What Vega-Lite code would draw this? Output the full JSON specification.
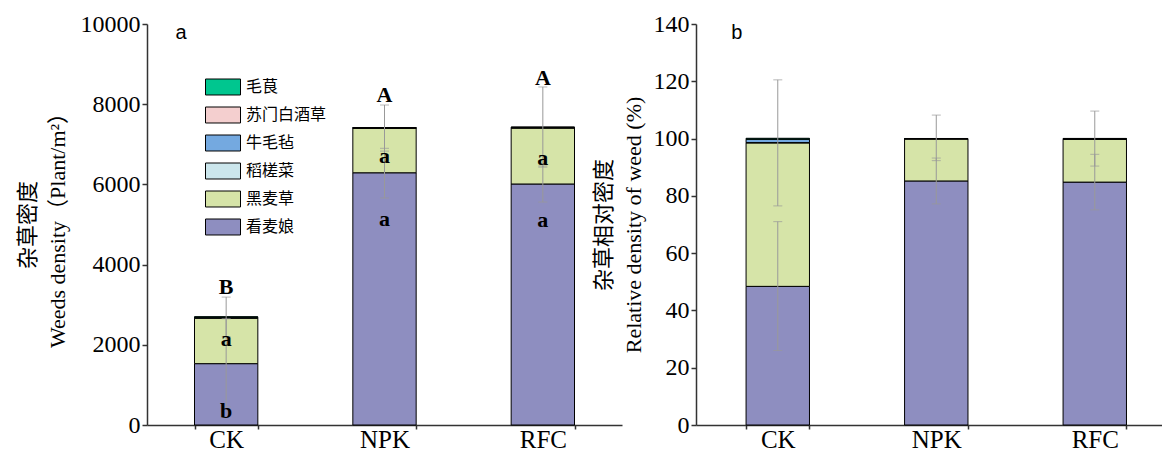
{
  "$schema": "https://vega.github.io/schema/vega-lite/v6.json",
  "background": "white",
  "padding": {"left": 16, "top": 12, "right": 0, "bottom": 0},
  "config": {
    "font": "Liberation Serif",
    "view": {"stroke": null},
    "axis": {
      "labelFont": "Liberation Serif",
      "titleFont": "Liberation Serif, Noto Sans CJK SC",
      "labelFontSize": 24,
      "titleFontSize": 22,
      "titleFontWeight": "normal",
      "titleLineHeight": 30,
      "labelColor": "black",
      "titleColor": "black",
      "domainColor": "#333",
      "tickColor": "#333",
      "domainWidth": 1.5,
      "tickWidth": 1.5,
      "grid": false
    }
  },
  "datasets": {
    "density": [
      {"treatment": "CK", "species": "看麦娘", "value": 1530, "stack_order": 1},
      {"treatment": "CK", "species": "黑麦草", "value": 1135, "stack_order": 2},
      {"treatment": "CK", "species": "稻槎菜", "value": 5, "stack_order": 3},
      {"treatment": "CK", "species": "牛毛毡", "value": 15, "stack_order": 4},
      {"treatment": "CK", "species": "苏门白酒草", "value": 4, "stack_order": 5},
      {"treatment": "CK", "species": "毛茛", "value": 8, "stack_order": 6},
      {"treatment": "NPK", "species": "看麦娘", "value": 6290, "stack_order": 1},
      {"treatment": "NPK", "species": "黑麦草", "value": 1115, "stack_order": 2},
      {"treatment": "NPK", "species": "稻槎菜", "value": 3, "stack_order": 3},
      {"treatment": "NPK", "species": "牛毛毡", "value": 3, "stack_order": 4},
      {"treatment": "NPK", "species": "苏门白酒草", "value": 2, "stack_order": 5},
      {"treatment": "NPK", "species": "毛茛", "value": 4, "stack_order": 6},
      {"treatment": "RFC", "species": "看麦娘", "value": 6010, "stack_order": 1},
      {"treatment": "RFC", "species": "黑麦草", "value": 1395, "stack_order": 2},
      {"treatment": "RFC", "species": "稻槎菜", "value": 8, "stack_order": 3},
      {"treatment": "RFC", "species": "牛毛毡", "value": 6, "stack_order": 4},
      {"treatment": "RFC", "species": "苏门白酒草", "value": 4, "stack_order": 5},
      {"treatment": "RFC", "species": "毛茛", "value": 8, "stack_order": 6}
    ],
    "densityErr": [
      {"treatment": "CK", "lo": 450, "hi": 2650},
      {"treatment": "CK", "lo": 2200, "hi": 3190},
      {"treatment": "NPK", "lo": 5660, "hi": 6900},
      {"treatment": "NPK", "lo": 6830, "hi": 7980},
      {"treatment": "RFC", "lo": 5560, "hi": 6460},
      {"treatment": "RFC", "lo": 6430, "hi": 8430}
    ],
    "letters": [
      {"treatment": "CK", "label": "B", "y": 3430},
      {"treatment": "CK", "label": "a", "y": 2145},
      {"treatment": "CK", "label": "b", "y": 350},
      {"treatment": "NPK", "label": "A", "y": 8229},
      {"treatment": "NPK", "label": "a", "y": 6708},
      {"treatment": "NPK", "label": "a", "y": 5137},
      {"treatment": "RFC", "label": "A", "y": 8641},
      {"treatment": "RFC", "label": "a", "y": 6646},
      {"treatment": "RFC", "label": "a", "y": 5112}
    ],
    "relative": [
      {"treatment": "CK", "species": "看麦娘", "value": 48.4, "stack_order": 1},
      {"treatment": "CK", "species": "黑麦草", "value": 50.1, "stack_order": 2},
      {"treatment": "CK", "species": "稻槎菜", "value": 0.1, "stack_order": 3},
      {"treatment": "CK", "species": "牛毛毡", "value": 1.1, "stack_order": 4},
      {"treatment": "CK", "species": "苏门白酒草", "value": 0.1, "stack_order": 5},
      {"treatment": "CK", "species": "毛茛", "value": 0.3, "stack_order": 6},
      {"treatment": "NPK", "species": "看麦娘", "value": 85.2, "stack_order": 1},
      {"treatment": "NPK", "species": "黑麦草", "value": 14.7, "stack_order": 2},
      {"treatment": "NPK", "species": "稻槎菜", "value": 0.03, "stack_order": 3},
      {"treatment": "NPK", "species": "牛毛毡", "value": 0.03, "stack_order": 4},
      {"treatment": "NPK", "species": "苏门白酒草", "value": 0.02, "stack_order": 5},
      {"treatment": "NPK", "species": "毛茛", "value": 0.05, "stack_order": 6},
      {"treatment": "RFC", "species": "看麦娘", "value": 84.8, "stack_order": 1},
      {"treatment": "RFC", "species": "黑麦草", "value": 14.9, "stack_order": 2},
      {"treatment": "RFC", "species": "稻槎菜", "value": 0.1, "stack_order": 3},
      {"treatment": "RFC", "species": "牛毛毡", "value": 0.05, "stack_order": 4},
      {"treatment": "RFC", "species": "苏门白酒草", "value": 0.05, "stack_order": 5},
      {"treatment": "RFC", "species": "毛茛", "value": 0.15, "stack_order": 6}
    ],
    "relativeErr": [
      {"treatment": "CK", "lo": 26, "hi": 71},
      {"treatment": "CK", "lo": 76.5, "hi": 120.5},
      {"treatment": "NPK", "lo": 77.2, "hi": 93.2},
      {"treatment": "NPK", "lo": 92.3, "hi": 108.2},
      {"treatment": "RFC", "lo": 75.1, "hi": 94.5},
      {"treatment": "RFC", "lo": 90.4, "hi": 109.6}
    ]
  },
  "spacing": 74,
  "bounds": "flush",
  "resolve": {"scale": {"fill": "independent"}, "legend": {"fill": "independent"}},
  "hconcat": [
    {
      "width": 475,
      "height": 401,
      "layer": [
        {
          "data": {"name": "density"},
          "mark": {"type": "bar", "stroke": "black", "strokeWidth": 1},
          "encoding": {
            "x": {"field": "treatment", "type": "nominal", "sort": ["CK", "NPK", "RFC"],
              "scale": {"paddingInner": 0.6, "paddingOuter": 0.3},
              "axis": {"title": null, "labelAngle": 0, "labelFontSize": 25, "tickBand": "extent", "tickSize": 4, "labelPadding": -2}},
            "y": {"field": "value", "type": "quantitative", "stack": "zero",
              "scale": {"domain": [0, 10000], "nice": false},
              "axis": {"values": [0, 2000, 4000, 6000, 8000, 10000], "format": "d", "title": ["杂草密度", "Weeds density（Plant/m²）"], "tickSize": 5, "titlePadding": 11}},
            "fill": {"field": "species", "type": "nominal",
              "scale": {"domain": ["毛茛", "苏门白酒草", "牛毛毡", "稻槎菜", "黑麦草", "看麦娘"],
                "range": ["#00C68F", "#F4CFCF", "#74A9E0", "#CBE6EC", "#D6E4A8", "#8E8EC0"]},
              "legend": {"orient": "none", "legendX": 58, "legendY": 45, "title": null,
                "symbolType": "M-1,-0.457H1V0.457H-1Z", "symbolSize": 1225,
                "symbolStrokeColor": "black", "symbolStrokeWidth": 1, "symbolOpacity": 1,
                "labelFont": "Noto Sans CJK SC", "labelFontSize": 16, "labelColor": "black",
                "rowPadding": -14, "labelOffset": 5}},
            "order": {"field": "stack_order", "type": "quantitative"}
          }
        },
        {
          "data": {"name": "densityErr"},
          "mark": {"type": "rule", "color": "#999", "strokeWidth": 1},
          "encoding": {
            "x": {"field": "treatment", "type": "nominal", "sort": ["CK", "NPK", "RFC"]},
            "y": {"field": "lo", "type": "quantitative"},
            "y2": {"field": "hi"}
          }
        },
        {
          "data": {"name": "densityErr"},
          "mark": {"type": "tick", "color": "#999", "thickness": 1, "size": 9},
          "encoding": {
            "x": {"field": "treatment", "type": "nominal", "sort": ["CK", "NPK", "RFC"]},
            "y": {"field": "lo", "type": "quantitative"}
          }
        },
        {
          "data": {"name": "densityErr"},
          "mark": {"type": "tick", "color": "#999", "thickness": 1, "size": 9},
          "encoding": {
            "x": {"field": "treatment", "type": "nominal", "sort": ["CK", "NPK", "RFC"]},
            "y": {"field": "hi", "type": "quantitative"}
          }
        },
        {
          "data": {"name": "letters"},
          "mark": {"type": "text", "font": "Liberation Serif", "fontWeight": "bold", "fontSize": 22, "baseline": "middle", "align": "center", "color": "black"},
          "encoding": {
            "x": {"field": "treatment", "type": "nominal", "sort": ["CK", "NPK", "RFC"]},
            "y": {"field": "y", "type": "quantitative"},
            "text": {"field": "label"}
          }
        },
        {
          "data": {"values": [{"panel": "a", "treatment": "CK", "y": 9775}]},
          "mark": {"type": "text", "font": "Liberation Sans", "fontSize": 20, "baseline": "middle", "align": "center", "color": "black", "dx": -45},
          "encoding": {
            "x": {"field": "treatment", "type": "nominal", "sort": ["CK", "NPK", "RFC"]},
            "y": {"field": "y", "type": "quantitative"},
            "text": {"field": "panel"}
          }
        }
      ]
    },
    {
      "width": 466,
      "height": 401,
      "layer": [
        {
          "data": {"name": "relative"},
          "mark": {"type": "bar", "stroke": "black", "strokeWidth": 1},
          "encoding": {
            "x": {"field": "treatment", "type": "nominal", "sort": ["CK", "NPK", "RFC"],
              "scale": {"paddingInner": 0.6, "paddingOuter": 0.27, "align": 0.585},
              "axis": {"title": null, "labelAngle": 0, "labelFontSize": 25, "tickBand": "extent", "tickSize": 4, "labelPadding": -2}},
            "y": {"field": "value", "type": "quantitative", "stack": "zero",
              "scale": {"domain": [0, 140], "nice": false},
              "axis": {"values": [0, 20, 40, 60, 80, 100, 120, 140], "title": ["杂草相对密度", "Relative density of weed (%)"], "tickSize": 5, "titlePadding": 8}},
            "fill": {"field": "species", "type": "nominal",
              "scale": {"domain": ["毛茛", "苏门白酒草", "牛毛毡", "稻槎菜", "黑麦草", "看麦娘"],
                "range": ["#00C68F", "#F4CFCF", "#74A9E0", "#CBE6EC", "#D6E4A8", "#8E8EC0"]},
              "legend": null},
            "order": {"field": "stack_order", "type": "quantitative"}
          }
        },
        {
          "data": {"name": "relativeErr"},
          "mark": {"type": "rule", "color": "#999", "strokeWidth": 1},
          "encoding": {
            "x": {"field": "treatment", "type": "nominal", "sort": ["CK", "NPK", "RFC"]},
            "y": {"field": "lo", "type": "quantitative"},
            "y2": {"field": "hi"}
          }
        },
        {
          "data": {"name": "relativeErr"},
          "mark": {"type": "tick", "color": "#999", "thickness": 1, "size": 9},
          "encoding": {
            "x": {"field": "treatment", "type": "nominal", "sort": ["CK", "NPK", "RFC"]},
            "y": {"field": "lo", "type": "quantitative"}
          }
        },
        {
          "data": {"name": "relativeErr"},
          "mark": {"type": "tick", "color": "#999", "thickness": 1, "size": 9},
          "encoding": {
            "x": {"field": "treatment", "type": "nominal", "sort": ["CK", "NPK", "RFC"]},
            "y": {"field": "hi", "type": "quantitative"}
          }
        },
        {
          "data": {"values": [{"panel": "b", "treatment": "CK", "y": 136.9}]},
          "mark": {"type": "text", "font": "Liberation Sans", "fontSize": 20, "baseline": "middle", "align": "center", "color": "black", "dx": -41},
          "encoding": {
            "x": {"field": "treatment", "type": "nominal", "sort": ["CK", "NPK", "RFC"]},
            "y": {"field": "y", "type": "quantitative"},
            "text": {"field": "panel"}
          }
        }
      ]
    }
  ]
}
